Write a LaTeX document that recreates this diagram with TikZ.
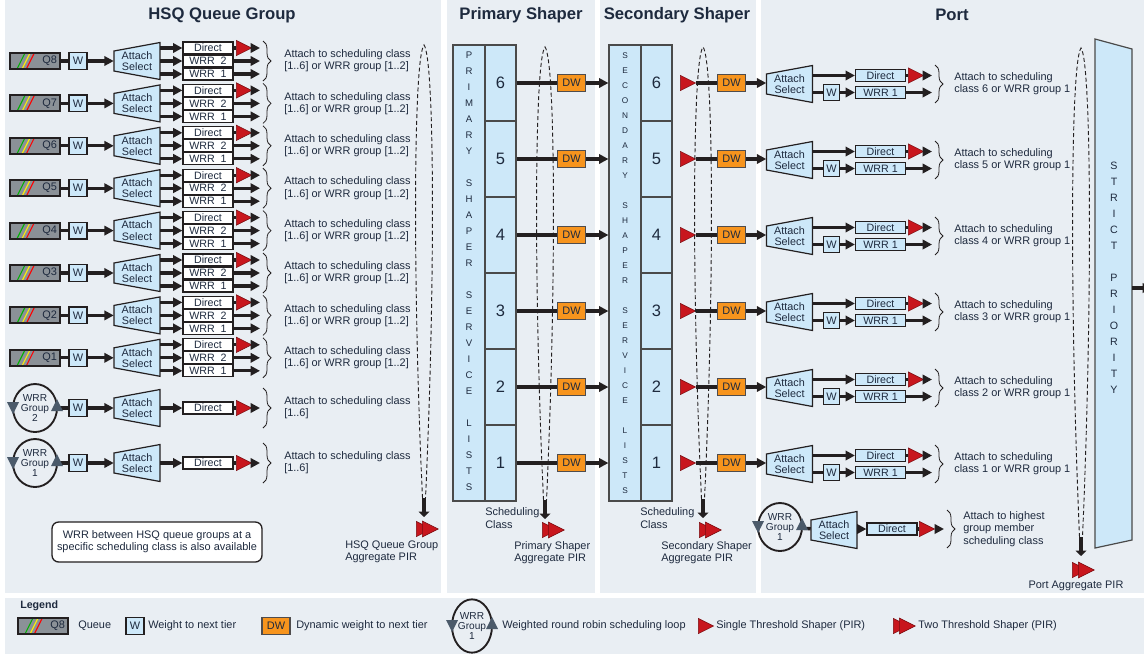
\documentclass[tikz,border=0pt]{standalone}
\usepackage{fontspec}
\setmainfont{Liberation Sans}
\usetikzlibrary{arrows.meta,positioning,shapes.geometric,decorations.pathreplacing}

\definecolor{panel}{HTML}{E9EEF3}
\definecolor{boxblue}{HTML}{CDE8F9}
\definecolor{dworange}{HTML}{F7941D}
\definecolor{pirred}{HTML}{C8161D}
\definecolor{ink}{HTML}{231F20}
\definecolor{txt}{HTML}{1E2A3E}
\definecolor{qgrey}{HTML}{8B9197}
\definecolor{lgrey}{HTML}{4A4A4A}
\definecolor{markgrey}{HTML}{4B5A6A}

% attach-select trapezoid, named node on top
\newcommand{\attsel}[3]{%
  \draw[selshape] (#2-23,#3-10) -- (#2+23,#3-18.5) -- (#2+23,#3+18.5) -- (#2-23,#3+10) -- cycle;
  \node[seltext] (#1) at (#2,#3) {Attach\\Select};}
% the two arrows on a WRR group loop
\newcommand{\grpmarks}[3]{%
  \fill[grpmark] (#1-#3-6,#2-6) -- (#1-#3+6,#2-6) -- (#1-#3,#2+6) -- cycle;
  \fill[grpmark] (#1+#3-6,#2+3) -- (#1+#3+6,#2+3) -- (#1+#3,#2-9) -- cycle;}
% aggregate PIR loop: name, x, top, bottom
\newcommand{\pirloop}[4]{%
  \draw[loopline] (#2-1.5,#4) .. controls (#2-11,{#4-0.45*(#4-#3)}) and (#2-11,{#3+0.03*(#4-#3)}) .. (#2,#3)
    .. controls (#2+11,{#3+0.03*(#4-#3)}) and (#2+11,{#4-0.45*(#4-#3)}) .. (#2+1.5,#4);
  \coordinate (#1) at (#2,#4);
  \draw[pirdown] (#1) -- ++(0,19);}

\begin{document}
\begin{tikzpicture}[x=0.75pt,y=-0.75pt,
  every node/.style={font=\fontsize{8.2}{9.2}\selectfont, text=txt},
  title/.style={font=\fontsize{12.5}{14}\selectfont\bfseries},
  flow/.style={draw=ink, line width=2.5pt},
  arr/.style={flow, -{Triangle[length=7pt,width=7pt]}},
  wbox/.style={draw=ink, fill=boxblue, line width=0.9pt, minimum width=13.5pt, minimum height=12.5pt, inner sep=0pt},
  cbox/.style={draw=ink, fill=white, line width=0.9pt, minimum width=37.5pt, minimum height=9pt, inner sep=0pt, font=\fontsize{8}{8}\selectfont},
  pbox/.style={cbox, fill=boxblue},
  dw/.style={draw=ink!80, fill=dworange, line width=0.8pt, minimum width=21pt, minimum height=12.75pt, inner sep=0pt},
  qbox/.style={draw=ink, fill=qgrey, line width=1.5pt, minimum height=12pt, text width=33pt, align=right, inner xsep=2pt, inner ysep=0pt,
    path picture={
      \draw[green!70!black, line width=0.8pt] ([xshift=5pt]path picture bounding box.south west) -- ++(6pt,12pt);
      \draw[yellow, line width=0.8pt] ([xshift=8.8pt]path picture bounding box.south west) -- ++(6pt,12pt);
      \draw[red, line width=0.8pt] ([xshift=12pt]path picture bounding box.south west) -- ++(6pt,12pt);}},
  cell/.style={draw=lgrey, fill=boxblue, line width=0.9pt, minimum width=23.25pt, minimum height=57pt, inner sep=0pt, font=\fontsize{12.4}{13}\selectfont},
  slist/.style={draw=lgrey, fill=boxblue, line width=0.9pt, minimum width=24pt, minimum height=342pt, inner sep=0pt},
  vlet/.style={inner sep=0pt, font=\fontsize{7.2}{7.5}\selectfont},
  grp/.style={ellipse, draw=ink, line width=1.4pt, minimum width=33pt, minimum height=36pt, inner sep=0pt, align=center, font=\fontsize{7.6}{7.8}\selectfont},
  grpmark/.style={fill=markgrey},
  shp/.style={isosceles triangle, isosceles triangle stretches, fill=pirred, draw=pirred!60!black, line width=0.4pt, inner sep=0pt, minimum width=11.5pt, minimum height=11.5pt},
  shp2/.style={shp, minimum width=12pt, minimum height=12pt},
  selshape/.style={draw=ink, fill=boxblue, line width=0.9pt},
  seltext/.style={minimum width=34.5pt, minimum height=27.75pt, inner sep=0pt, align=center, font=\fontsize{8.1}{8.3}\selectfont},
  brc/.style={decorate, decoration={brace, amplitude=6pt}, draw=ink, line width=0.6pt},
  txtl/.style={align=left, anchor=west, inner sep=0pt},
  note/.style={draw=ink, fill=white, rounded corners=5pt, line width=1pt, minimum width=157.5pt, minimum height=30pt, align=center},
  loopline/.style={draw=ink, dash pattern=on 3pt off 2pt, line width=0.7pt},
  pirdown/.style={draw=ink, line width=3.4pt, -{Triangle[length=4pt,width=8pt]}},
  spshape/.style={draw=lgrey, fill=boxblue, line width=0.9pt},
  spnode/.style={minimum width=27.75pt, minimum height=360pt, inner sep=0pt}]
\useasboundingbox (0,0) rectangle (1144,654);
% panels
\fill[white] (0,0) rectangle (1144,654);
\fill[panel] (5,0) rectangle (441,593);
\fill[panel] (447,0) rectangle (595,593);
\fill[panel] (600,0) rectangle (756,593);
\fill[panel] (761,0) rectangle (1144,593);
\fill[panel] (5,598) rectangle (1144,654);

\node[title] (th) at (222,15) {HSQ Queue Group};
\node[title] (tp) at (521,15) {Primary Shaper};
\node[title] (ts) at (677,15) {Secondary Shaper};
\node[title] (tq) at (952,15) {Port};

% HSQ queues
\foreach \q [evaluate=\q as \y using 61+42.4*(8-\q)] in {8,...,1} {
  \node[qbox] (q\q) at (35,\y) {Q\q};
  \node[wbox] (w\q) at (78,\y) {W};
  \attsel{a\q}{137}{\y}
  \node[cbox] (d\q) at (208,\y-13) {Direct};
  \node[cbox] (r\q) at (208,\y) {WRR\ \ 2};
  \node[cbox] (o\q) at (208,\y+13) {WRR\ \ 1};
  \node[shp, anchor=west] (x\q) at (236,\y-13) {};
  \coordinate (e\q) at (260,\y-13);
  \draw[flow] (q\q) -- (w\q);
  \draw[arr] (w\q) -- (a\q);
  \draw[arr] (a\q.east |- d\q) -- (d\q);
  \draw[arr] (a\q.east |- r\q) -- (r\q);
  \draw[arr] (a\q.east |- o\q) -- (o\q);
  \draw[flow] (d\q) -- (x\q);
  \draw[arr] (x\q) -- (e\q);
  \draw[arr] (r\q) -- (r\q -| e\q);
  \draw[arr] (o\q) -- (o\q -| e\q);
  \draw[brc] (263,\y-20) -- (263,\y+20);
  \node[txtl] (t\q) at (284,\y) {Attach to scheduling class\\{[1..6]} or WRR group {[1..2]}};
}

% HSQ WRR groups
\foreach \g/\y in {2/408,1/463} {
  \node[grp] (g\g) at (35,\y) {WRR\\Group\\\g};
  \node[wbox] (gw\g) at (78,\y) {W};
  \attsel{ga\g}{137}{\y}
  \node[cbox] (gd\g) at (208,\y) {Direct};
  \node[shp, anchor=west] (gx\g) at (236,\y) {};
  \coordinate (ge\g) at (260,\y);
  \draw[flow] (g\g) -- (gw\g);
  \grpmarks{35}{\y}{22}
  \draw[arr] (gw\g) -- (ga\g);
  \draw[arr] (ga\g) -- (gd\g);
  \draw[flow] (gd\g) -- (gx\g);
  \draw[arr] (gx\g) -- (ge\g);
  \draw[brc] (263,\y-20) -- (263,\y+20);
  \node[txtl] (gt\g) at (284,\y) {Attach to scheduling class\\{[1..6]}};
}
\node[note] (nt) at (157,542) {WRR between HSQ queue groups at a\\specific scheduling class is also available};

% shaper service lists
\node[slist] (pl) at (469,273) {};
\node[slist] (sl) at (625,273) {};
\foreach \c [count=\i from 0] in {P,R,I,M,A,R,Y,{},S,H,A,P,E,R,{},S,E,R,V,I,C,E,{},L,I,S,T,S}
  \node[vlet] (pc\i) at (469,55+16*\i) {\c};
\foreach \c [count=\i from 0] in {S,E,C,O,N,D,A,R,Y,{},S,H,A,P,E,R,{},S,E,R,V,I,C,E,{},L,I,S,T,S}
  \node[vlet, font=\fontsize{6.2}{6.5}\selectfont] (sc\i) at (625,56+15*\i) {\c};

% scheduling classes through the shapers to the port
\foreach \n [evaluate=\n as \y using 83+76*(6-\n)] in {6,...,1} {
  \node[cell] (p\n) at (500.5,\y) {\n};
  \node[cell] (s\n) at (656.5,\y) {\n};
  \node[dw] (pd\n) at (571.5,\y) {DW};
  \node[shp, anchor=west] (sx\n) at (680,\y) {};
  \node[dw] (sd\n) at (731.5,\y) {DW};
  \attsel{ps\n}{789.5}{\y+1}
  \node[pbox] (pdr\n) at (880.5,\y-7.5) {Direct};
  \node[wbox, minimum width=12pt] (pw\n) at (831.5,\y+9.5) {W};
  \node[pbox] (pwr\n) at (880.5,\y+9.5) {WRR 1};
  \node[shp, anchor=west] (px\n) at (908,\y-7.5) {};
  \coordinate (pe\n) at (932,\y-7.5);
  \draw[flow] (p\n) -- (pd\n);
  \draw[arr] (pd\n) -- (pd\n -| sl.west);
  \draw[flow] (sx\n) -- (sd\n);
  \draw[arr] (sd\n) -- (sd\n -| ps\n.west);
  \draw[arr] (ps\n.east |- pdr\n) -- (pdr\n);
  \draw[flow] (ps\n.east |- pw\n) -- (pw\n);
  \draw[arr] (pw\n) -- (pwr\n);
  \draw[flow] (pdr\n) -- (px\n);
  \draw[arr] (px\n) -- (pe\n);
  \draw[arr] (pwr\n) -- (pwr\n -| pe\n);
  \draw[brc] (935,\y-18) -- (935,\y+20);
  \node[txtl] (pt\n) at (954,\y+1) {Attach to scheduling\\class \n\ or WRR group 1};
}

% port WRR group
\node[grp] (pg) at (780,527) {WRR\\Group\\1};
\attsel{pga}{834}{530}
\node[pbox] (pgd) at (892,529) {Direct};
\node[shp, anchor=west] (pgx) at (919,529) {};
\coordinate (pge) at (944,529);
\draw[flow] (pg) -- (pga);
\grpmarks{780}{527}{22}
\draw[arr] (pga.east |- pgd) -- (pgd);
\draw[flow] (pgd) -- (pgx);
\draw[arr] (pgx) -- (pge);
\draw[brc] (947,510) -- (947,548);
\node[txtl] (pgt) at (963,529) {Attach to highest\\group member\\scheduling class};

% strict priority
\draw[spshape] (1095,39) -- (1132,49) -- (1132,540) -- (1095,548) -- cycle;
\node[spnode] (sp) at (1113.5,294) {};
\foreach \c [count=\i from 0] in {S,T,R,I,C,T,{},P,R,I,O,R,I,T,Y}
  \node[vlet, font=\fontsize{8}{8}\selectfont] (sq\i) at (1114,166+16*\i) {\c};
\coordinate (out) at (1152,288);
\draw[arr] (sp.east |- out) -- (out);

% aggregate PIR loops
\pirloop{hl}{424}{45}{498}
\pirloop{pll}{545}{47}{500}
\pirloop{sll}{703}{47}{499}
\pirloop{ql}{1081}{48}{537}
\node[shp, anchor=west] (ha1) at (416,529) {};
\node[shp2, anchor=west] (ha2) at (422,529) {};
\node[shp, anchor=west] (pa1) at (542,530) {};
\node[shp2, anchor=west] (pa2) at (548,530) {};
\node[shp, anchor=west] (sa1) at (699,530) {};
\node[shp2, anchor=west] (sa2) at (705,530) {};
\node[shp, anchor=west] (qa1) at (1072,570) {};
\node[shp2, anchor=west] (qa2) at (1078,570) {};
\node[txtl] (hpir) at (345,552) {HSQ Queue Group\\Aggregate PIR};
\node[txtl] (ppir) at (514,553) {Primary Shaper\\Aggregate PIR};
\node[txtl] (spir) at (661,553) {Secondary Shaper\\Aggregate PIR};
\node (qpir) at (1076,586) {Port Aggregate PIR};
\node[txtl] (psc) at (485,518) {Scheduling\\Class};
\node[txtl] (ssc) at (640,518) {Scheduling\\Class};

% legend
\node[txtl, font=\fontsize{8}{9}\selectfont\bfseries] (lg) at (20,606) {Legend};
\node[qbox] (lq) at (43,626) {Q8};
\node[txtl] (lqt) at (78,626) {Queue};
\node[wbox] (lw) at (135,626) {W};
\node[txtl] (lwt) at (148,626) {Weight to next tier};
\node[dw] (ld) at (276,626) {DW};
\node[txtl] (ldt) at (296,626) {Dynamic weight to next tier};
\node[grp, minimum width=30pt, minimum height=40pt] (lgr) at (472,626) {WRR\\Group\\1};
\grpmarks{472}{626}{20}
\node[txtl] (lgt) at (502,626) {Weighted round robin scheduling loop};
\node[shp, anchor=west] (ls) at (698,626) {};
\node[txtl] (lst) at (716,626) {Single Threshold Shaper (PIR)};
\node[shp, anchor=west] (ld1) at (893,626) {};
\node[shp2, anchor=west] (ld2) at (899,626) {};
\node[txtl] (ldd) at (918,626) {Two Threshold Shaper (PIR)};
\end{tikzpicture}
\end{document}
